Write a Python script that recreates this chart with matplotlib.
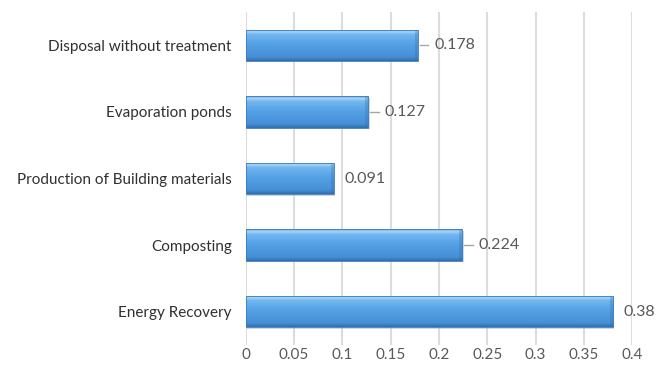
import numpy as np
import matplotlib
matplotlib.use("Agg")
import matplotlib.pyplot as plt
from matplotlib.colors import LinearSegmentedColormap
from matplotlib.patches import Rectangle
import matplotlib.transforms as mtransforms

# Treatment options (bottom to top) and their scores
categories = ["Energy Recovery", "Composting", "Production of Building materials",
              "Evaporation ponds", "Disposal without treatment"]
values = [0.38, 0.224, 0.091, 0.127, 0.178]
value_labels = ["0.38", "0.224", "0.091", "0.127", "0.178"]
has_leader = [False, True, False, True, True]
x_ticks = [0, 0.05, 0.1, 0.15, 0.2, 0.25, 0.3, 0.35, 0.4]
x_tick_labels = ["0", "0.05", "0.1", "0.15", "0.2", "0.25", "0.3", "0.35", "0.4"]

plt.rcParams["font.family"] = ["Lato", "DejaVu Sans"]

fig = plt.figure(figsize=(6.64, 3.77), dpi=100)
ax = fig.add_axes([0.370, 0.085, 0.582, 0.883])

bar_h = 0.47
ypos = np.arange(len(categories))

# blue bevelled look: vertical gradient light top -> darker bottom
grad_cmap = LinearSegmentedColormap.from_list(
    "bevel", [(0.0, "#2f6fae"), (0.12, "#4690d6"), (0.55, "#55a2e6"),
              (0.85, "#74b8f0"), (0.93, "#b0d8f7"), (1.0, "#62a6e0")])
grad = np.linspace(0, 1, 64).reshape(-1, 1)

bars = ax.barh(ypos, values, height=bar_h, color="none", zorder=3)
shadow_off = mtransforms.offset_copy(ax.transData, fig=fig, x=1.5, y=-1.5, units="dots")
for rect, v in zip(bars, values):
    y0 = rect.get_y()
    # soft shadow under the bar
    ax.add_patch(Rectangle((0, y0), v, bar_h, transform=shadow_off,
                           facecolor="#a7b0b9", alpha=0.5, edgecolor="none", zorder=2))
    im = ax.imshow(grad, cmap=grad_cmap, aspect="auto", origin="lower",
                   extent=(0, v, y0, y0 + bar_h), zorder=3, interpolation="bicubic")
    im.set_clip_path(rect)
    # slightly darker right end cap
    ax.add_patch(Rectangle((v - 0.003, y0), 0.003, bar_h, facecolor="#2f6fae",
                           alpha=0.3, edgecolor="none", zorder=4))
    ax.add_patch(Rectangle((0, y0), v, bar_h, facecolor="none",
                           edgecolor="#3d7dbd", linewidth=0.6, zorder=5))

# value labels, some with short leader lines
for y, v, lab, lead in zip(ypos, values, value_labels, has_leader):
    if lead:
        ax.plot([v + 0.002, v + 0.011], [y, y], color="#a6a6a6", lw=1.0, zorder=4)
        ax.text(v + 0.017, y, lab, va="center", ha="left", fontsize=11.5, color="#595959")
    else:
        ax.text(v + 0.011, y, lab, va="center", ha="left", fontsize=11.5, color="#595959")

ax.set_xlim(0, 0.4)
ax.set_ylim(-0.5, len(categories) - 0.5)
ax.set_xticks(x_ticks)
ax.set_xticklabels(x_tick_labels, fontsize=11, color="#595959")
ax.set_yticks(ypos)
ax.set_yticklabels(categories, fontsize=11, color="#303030")
ax.tick_params(axis="both", length=0)
ax.tick_params(axis="x", pad=2)
ax.tick_params(axis="y", pad=10)
ax.grid(axis="x", color="#dcdcdc", linewidth=1.5, zorder=0)
ax.set_axisbelow(True)
for s in ax.spines.values():
    s.set_visible(False)

fig.savefig("out.png", dpi=100, facecolor="white")
